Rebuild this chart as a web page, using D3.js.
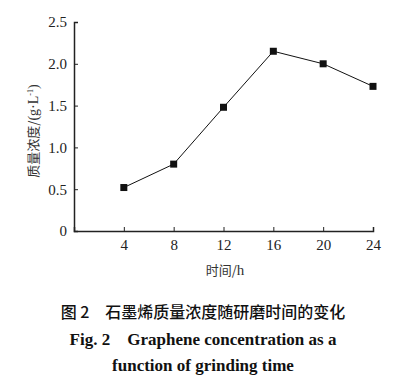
<!DOCTYPE html>
<html>
<head>
<meta charset="utf-8">
<script src="https://cdn.jsdelivr.net/npm/d3@7"></script>
</head>
<body style="margin:0">
<svg id="chart" width="405" height="384"></svg>
<script>
// data
var hours = [4, 8, 12, 16, 20, 24];
var concentration = [0.52, 0.80, 1.48, 2.15, 2.00, 1.73];
var xTicks = [4, 8, 12, 16, 20, 24];
var yTicks = [0, 0.5, 1.0, 1.5, 2.0, 2.5];

var SERIF = "Liberation Serif";
var CJK = "Noto Sans CJK SC";

var svg = d3.select("#chart");

var x = d3.scaleLinear().domain([0, 24]).range([74, 373]);
var y = d3.scaleLinear().domain([0, 2.5]).range([231, 22]);

function styleAxis(g) {
  g.attr("font-family", SERIF).attr("font-size", 15);
  g.select(".domain").attr("stroke", "#222").attr("stroke-width", 1.5);
  g.selectAll(".tick line").attr("stroke", "#222");
  g.selectAll(".tick text").attr("fill", "#222");
}

// y axis, ticks pointing inward
var yAxis = d3.axisLeft(y)
  .tickValues(yTicks)
  .tickSize(-4)
  .tickPadding(7)
  .tickFormat(function(d) { return d === 0 ? "0" : d3.format(".1f")(d); });

svg.append("g")
  .attr("transform", "translate(" + x(0) + ",0)")
  .call(yAxis)
  .call(styleAxis);

// x axis
var xAxis = d3.axisBottom(x)
  .tickValues(xTicks)
  .tickSize(-4)
  .tickPadding(8);

svg.append("g")
  .attr("transform", "translate(0," + y(0) + ")")
  .call(xAxis)
  .call(styleAxis);

var points = hours.map(function(h, i) { return {h: h, c: concentration[i]}; });

var line = d3.line()
  .x(function(d) { return x(d.h); })
  .y(function(d) { return y(d.c); });

svg.append("path")
  .datum(points)
  .attr("d", line)
  .attr("fill", "none")
  .attr("stroke", "#111")
  .attr("stroke-width", 1);

svg.selectAll(".pt")
  .data(points)
  .enter().append("rect")
  .attr("class", "pt")
  .attr("x", function(d) { return x(d.h) - 3.5; })
  .attr("y", function(d) { return y(d.c) - 3.5; })
  .attr("width", 7)
  .attr("height", 7)
  .attr("fill", "#111");

// axis titles
var yt = svg.append("text")
  .attr("transform", "translate(38,131) rotate(-90)")
  .attr("text-anchor", "middle")
  .attr("fill", "#333");
yt.append("tspan").attr("font-family", CJK).attr("font-size", 13).text("质量浓度/");
yt.append("tspan").attr("font-family", SERIF).attr("font-size", 14).text("(g·L");
yt.append("tspan").attr("font-family", SERIF).attr("font-size", 8).attr("dy", -5).text("-1");
yt.append("tspan").attr("font-family", SERIF).attr("font-size", 14).attr("dy", 5).text(")");

var xt = svg.append("text")
  .attr("x", 225)
  .attr("y", 275)
  .attr("text-anchor", "middle")
  .attr("fill", "#333");
xt.append("tspan").attr("font-family", CJK).attr("font-size", 13).text("时间/");
xt.append("tspan").attr("font-family", SERIF).attr("font-size", 15).text("h");

// caption
var caption = [
  {t: "图 2　石墨烯质量浓度随研磨时间的变化", y: 318, f: CJK, w: 500, s: 16},
  {t: "Fig. 2\u00a0\u00a0\u00a0\u00a0Graphene concentration as a", y: 345, f: SERIF, w: "bold", s: 17},
  {t: "function of grinding time", y: 371, f: SERIF, w: "bold", s: 17}
];

svg.selectAll(".cap")
  .data(caption)
  .enter().append("text")
  .attr("class", "cap")
  .attr("x", 203)
  .attr("y", function(d) { return d.y; })
  .attr("text-anchor", "middle")
  .attr("font-family", function(d) { return d.f; })
  .attr("font-weight", function(d) { return d.w; })
  .attr("font-size", function(d) { return d.s; })
  .attr("fill", "#111")
  .text(function(d) { return d.t; });
</script>
</body>
</html>
